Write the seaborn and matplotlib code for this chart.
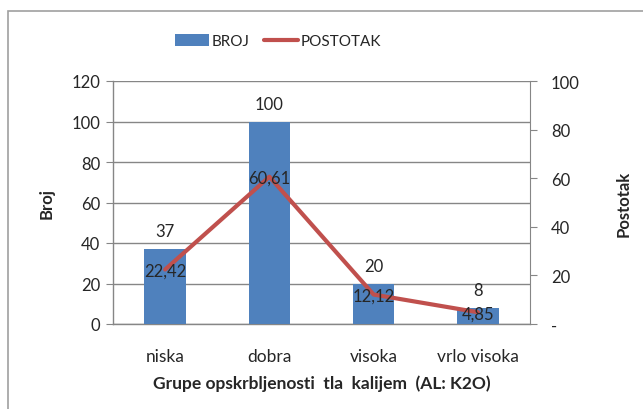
import matplotlib.pyplot as plt
import matplotlib.ticker as mticker
from matplotlib.patches import Rectangle, Patch
from matplotlib.lines import Line2D
import seaborn as sns
import pandas as pd

categories = ["niska", "dobra", "visoka", "vrlo visoka"]
broj = [37, 100, 20, 8]
postotak = [22.42, 60.61, 12.12, 4.85]

BLUE = "#4F81BD"
RED = "#C0504D"
GRID = "#868686"

sns.set_style("white")
plt.rcParams['font.family'] = ['Lato', 'DejaVu Sans']

df = pd.DataFrame({"kat": categories, "broj": broj, "pct": postotak})

fig = plt.figure(figsize=(6.43, 4.10), dpi=100)
ax = fig.add_axes([113 / 643, 85 / 410, 417 / 643, 243 / 410])

sns.barplot(data=df, x="kat", y="broj", ax=ax, color=BLUE, width=0.4,
            saturation=1, linewidth=0, zorder=3)
ax.set_ylim(0, 120)
ax.set_yticks(range(0, 121, 20))
ax.yaxis.grid(True, color=GRID, linewidth=1)
ax.set_axisbelow(True)
for s in ["top", "right"]:
    ax.spines[s].set_visible(False)
for s in ["left", "bottom"]:
    ax.spines[s].set_color(GRID)
    ax.spines[s].set_linewidth(1)
ax.tick_params(axis="y", left=True, length=5, color=GRID, labelsize=12, pad=4)
ax.tick_params(axis="x", bottom=False, labelsize=12.5, pad=14)
ax.set_xlabel("Grupe opskrbljenosti  tla  kalijem  (AL: K2O)",
              fontsize=12.5, fontweight="bold", labelpad=7)
ax.set_ylabel("Broj", fontsize=12, fontweight="bold", labelpad=12)

for i, v in enumerate(broj):
    ax.annotate(str(v), (i, v), xytext=(0, 7), textcoords="offset points",
                ha="center", va="bottom", fontsize=12)

ax2 = ax.twinx()
sns.pointplot(data=df, x="kat", y="pct", ax=ax2, color=RED, markers="",
              linestyles="-", linewidth=3, zorder=4)
ax2.set_ylim(0, 100)
ax2.set_yticks(range(0, 101, 20))
ax2.yaxis.set_major_formatter(
    mticker.FuncFormatter(lambda v, p: "-" if v == 0 else f"{v:.0f}"))
for s in ["top", "left", "bottom"]:
    ax2.spines[s].set_visible(False)
ax2.spines["right"].set_color(GRID)
ax2.tick_params(axis="y", right=True, length=5, color=GRID, labelsize=12, pad=10)
ax2.set_ylabel("Postotak", fontsize=12, fontweight="bold", labelpad=26)
ax2.grid(False)
ax2.set_xlim(-0.5, len(categories) - 0.5)
ax.set_xlim(-0.5, len(categories) - 0.5)

for i, v in enumerate(postotak):
    ax2.annotate(f"{v:.2f}".replace(".", ","), (i, v), xytext=(0, -1),
                 textcoords="offset points", ha="center", va="center",
                 fontsize=12, zorder=5)

handles = [Patch(facecolor=BLUE, edgecolor="none"),
           Line2D([0], [0], color=RED, linewidth=3)]
fig.legend(handles, ["BROJ", "POSTOTAK"], loc="center",
           bbox_to_anchor=(278 / 643, 1 - 42 / 410), ncol=2, frameon=False,
           fontsize=11, handlelength=2.2, handleheight=0.9, handletextpad=0.15,
           columnspacing=1.0)

fig.patches.append(Rectangle((8 / 643, -0.1), 1.1, 1 - 12 / 410 + 0.1,
                             transform=fig.transFigure, fill=False,
                             edgecolor="#A0A0A0", linewidth=1.2))

fig.savefig("out.png", dpi=100)
